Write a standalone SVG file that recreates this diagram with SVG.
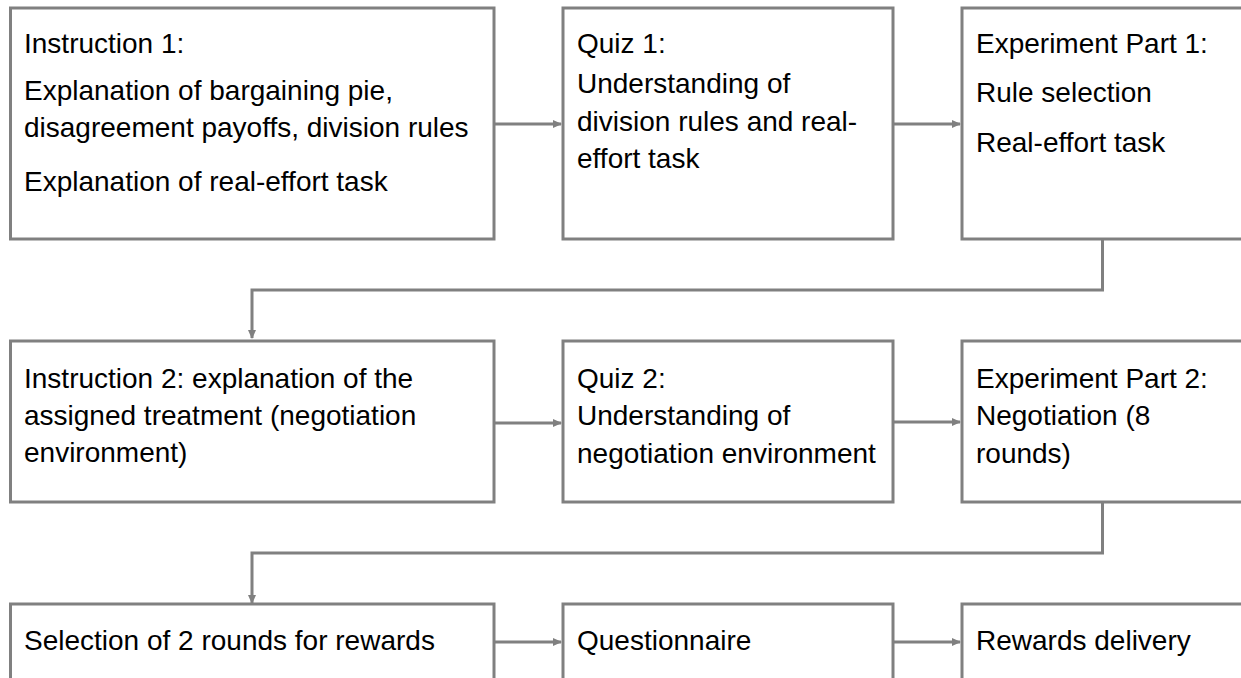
<svg xmlns="http://www.w3.org/2000/svg" width="1241" height="678" viewBox="0 0 1241 678">
<style>
.box{fill:#ffffff;stroke:#808080;stroke-width:3}
.t{font-family:"Liberation Sans",Arial,sans-serif;font-size:28px;fill:#000000}
.c{fill:none;stroke:#808080;stroke-width:3}
</style>
<defs>
<marker id="ah" markerWidth="10" markerHeight="10" refX="8" refY="5" orient="auto" markerUnits="userSpaceOnUse">
<path d="M0,1 L9,5 L0,9 Z" fill="#808080"/>
</marker>
</defs>
<rect width="1241" height="678" fill="#ffffff"/>
<g id="connectors">
<line class="c" x1="494" y1="124" x2="561" y2="124" marker-end="url(#ah)"/>
<line class="c" x1="893" y1="124" x2="960" y2="124" marker-end="url(#ah)"/>
<polyline class="c" points="1102.5,239 1102.5,290 252,290 252,338" marker-end="url(#ah)"/>
<line class="c" x1="494" y1="423" x2="561" y2="423" marker-end="url(#ah)"/>
<line class="c" x1="893" y1="422" x2="960" y2="422" marker-end="url(#ah)"/>
<polyline class="c" points="1102.5,502 1102.5,553 252,553 252,603" marker-end="url(#ah)"/>
<line class="c" x1="494" y1="642" x2="561" y2="642" marker-end="url(#ah)"/>
<line class="c" x1="893" y1="642" x2="960" y2="642" marker-end="url(#ah)"/>
</g>
<g id="instruction1">
<rect class="box" x="10.5" y="8" width="483.5" height="231"/>
<text class="t" x="24" y="53">Instruction 1:</text>
<text class="t" x="24" y="100">Explanation of bargaining pie,</text>
<text class="t" x="24" y="137">disagreement payoffs, division rules</text>
<text class="t" x="24" y="191">Explanation of real-effort task</text>
</g>
<g id="quiz1">
<rect class="box" x="563" y="8" width="330" height="231"/>
<text class="t" x="577" y="53">Quiz 1:</text>
<text class="t" x="577" y="93">Understanding of</text>
<text class="t" x="577" y="131">division rules and real-</text>
<text class="t" x="577" y="168">effort task</text>
</g>
<g id="experiment1">
<rect class="box" x="962" y="8" width="340" height="231"/>
<text class="t" x="976" y="53">Experiment Part 1:</text>
<text class="t" x="976" y="102">Rule selection</text>
<text class="t" x="976" y="152">Real-effort task</text>
</g>
<g id="instruction2">
<rect class="box" x="10.5" y="341" width="483.5" height="161"/>
<text class="t" x="24" y="388">Instruction 2: explanation of the</text>
<text class="t" x="24" y="425">assigned treatment (negotiation</text>
<text class="t" x="24" y="462">environment)</text>
</g>
<g id="quiz2">
<rect class="box" x="563" y="341" width="330" height="161"/>
<text class="t" x="577" y="388">Quiz 2:</text>
<text class="t" x="577" y="425">Understanding of</text>
<text class="t" x="577" y="463">negotiation environment</text>
</g>
<g id="experiment2">
<rect class="box" x="962" y="341" width="340" height="161"/>
<text class="t" x="976" y="388">Experiment Part 2:</text>
<text class="t" x="976" y="425">Negotiation (8</text>
<text class="t" x="976" y="463">rounds)</text>
</g>
<g id="selection">
<rect class="box" x="10.5" y="604" width="483.5" height="120"/>
<text class="t" x="24" y="650">Selection of 2 rounds for rewards</text>
</g>
<g id="questionnaire">
<rect class="box" x="563" y="604" width="330" height="120"/>
<text class="t" x="577" y="650">Questionnaire</text>
</g>
<g id="rewards">
<rect class="box" x="962" y="604" width="340" height="120"/>
<text class="t" x="976" y="650">Rewards delivery</text>
</g>
</svg>
